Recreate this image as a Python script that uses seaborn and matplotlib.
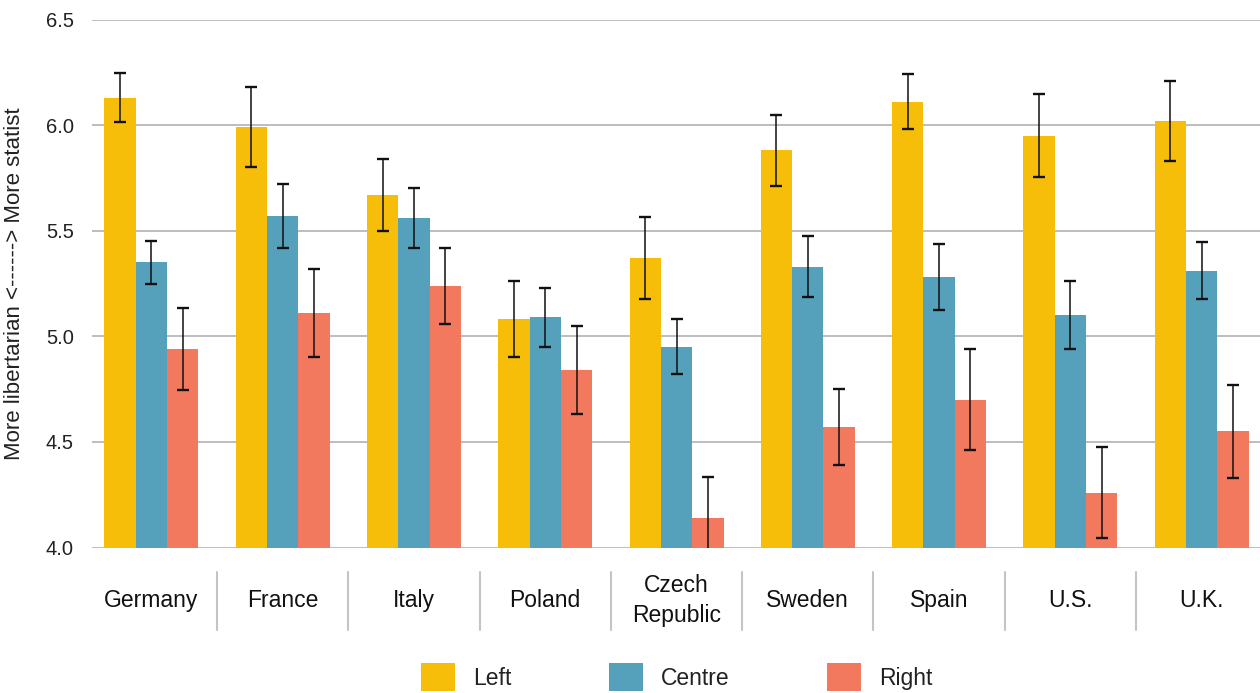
import matplotlib
matplotlib.use("Agg")
import matplotlib.pyplot as plt
import matplotlib.transforms as mtransforms
import numpy as np
import pandas as pd
import seaborn as sns

# Mean position on the libertarian-statist scale by self-placed political group
countries = ["Germany", "France", "Italy", "Poland", "Czech\nRepublic",
             "Sweden", "Spain", "U.S.", "U.K."]
groups = ["Left", "Centre", "Right"]
left = [6.13, 5.99, 5.67, 5.08, 5.37, 5.88, 6.11, 5.95, 6.02]
centre = [5.35, 5.57, 5.56, 5.09, 4.95, 5.33, 5.28, 5.10, 5.31]
right = [4.94, 5.11, 5.24, 4.84, 4.14, 4.57, 4.70, 4.26, 4.55]
# Half-width of the confidence interval for each mean
left_err = [0.115, 0.19, 0.17, 0.18, 0.195, 0.17, 0.13, 0.195, 0.19]
centre_err = [0.10, 0.15, 0.14, 0.14, 0.13, 0.145, 0.157, 0.16, 0.135]
right_err = [0.195, 0.21, 0.18, 0.21, 0.195, 0.18, 0.24, 0.215, 0.22]
y_ticks = [4.0, 4.5, 5.0, 5.5, 6.0, 6.5]

palette = {"Left": "#F7BE09", "Centre": "#55A1BC", "Right": "#F2785E"}

df = pd.DataFrame({
    "country": countries * 3,
    "group": np.repeat(groups, len(countries)),
    "value": left + centre + right,
    "err": left_err + centre_err + right_err,
})

sns.set_theme(style="white")
plt.rcParams["font.family"] = ["Liberation Sans", "DejaVu Sans"]

fig = plt.figure(figsize=(12.6, 6.93), dpi=100)
ax = fig.add_axes([92 / 1260, 1 - 547.5 / 693, 1 - 92 / 1260, 528 / 693])

sns.barplot(data=df, x="country", y="value", hue="group", order=countries,
            hue_order=groups, palette=palette, width=0.716, gap=0,
            errorbar=None, linewidth=0, saturation=1, ax=ax)

# Confidence-interval whiskers at the centre of each bar
for grp, container in zip(groups, ax.containers):
    sub = df[df["group"] == grp].set_index("country").loc[countries]
    xs = [b.get_x() + b.get_width() / 2 for b in container]
    ax.errorbar(xs, sub["value"], yerr=sub["err"], fmt="none",
                ecolor="#111111", elinewidth=1.1, capsize=4.5, capthick=1.7,
                zorder=5)

ax.set_ylim(4.0, 6.5)
ax.set_xlim(-0.452, 8.444)
ax.set_yticks(y_ticks)
ax.set_yticklabels([f"{t:.1f}" for t in y_ticks])
ax.yaxis.grid(True, color="#b8b8b8", linewidth=1.3)
ax.xaxis.grid(False)
ax.set_axisbelow(True)
for s in ax.spines.values():
    s.set_visible(False)

ax.tick_params(axis="y", length=0, pad=13, labelsize=14.5, labelcolor="#222222")
ax.tick_params(axis="x", length=0, pad=38, labelsize=16.5, labelcolor="#111111")
for lbl in ax.get_xticklabels():
    lbl.set_verticalalignment("center")
    lbl.set_linespacing(1.38)

ax.set_xlabel("")
ax.set_ylabel("More libertarian <------> More statist", fontsize=16,
              color="#222222")
ax.yaxis.set_label_coords(-0.0575, 0.5)

# Thin dividers between the country labels
trans = mtransforms.blended_transform_factory(ax.transData, ax.transAxes)
for i in range(len(countries) - 1):
    ax.plot([i + 0.5, i + 0.5], [-0.0464, -0.156], transform=trans,
            color="#c4c4c4", linewidth=1.5, clip_on=False)

sns.move_legend(ax, "center", bbox_to_anchor=(0.537, 1 - 677 / 693),
                bbox_transform=fig.transFigure, ncol=3, title=None,
                frameon=False, fontsize=16.5, handlelength=1.48,
                handleheight=1.48, handletextpad=0.8, columnspacing=4.25,
                borderpad=0, borderaxespad=0)
for t in ax.get_legend().get_texts():
    t.set_color("#222222")

fig.savefig("out.png", dpi=100)
